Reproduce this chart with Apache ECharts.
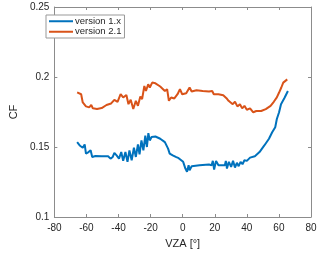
<!DOCTYPE html>
<html><head><meta charset="utf-8">
<script src="https://cdn.jsdelivr.net/npm/echarts@6/dist/echarts.min.js"></script>
<style>html,body{margin:0;padding:0;background:#fff}#c{width:320px;height:254px}</style>
</head><body><div id="c"></div>
<script>
const seriesNames = ["version 1.x", "version 2.1"];
const xTicks = [-80, -60, -40, -20, 0, 20, 40, 60, 80];
const yTicks = [0.1, 0.15, 0.2, 0.25];
const vza1 = [-65.8,-64.2,-62.3,-61.1,-60.3,-58.7,-57.4,-56.4,-54.4,-50.5,-46.5,-45,-43.6,-42.6,-41.2,-39.7,-38.3,-37.1,-35.7,-34.4,-33.2,-31.8,-30.4,-29.2,-27.9,-26.9,-25.7,-24.5,-23.3,-22.3,-21.4,-20.5,-19.4,-17,-14,-11.1,-9.9,-9.1,-8.1,-6.2,-4.3,-2.5,-1.3,0.3,1.7,2.7,3.7,4.3,5.6,10.5,16.4,18,18.8,19.6,20.8,22.3,26.3,26.9,27.6,28.8,30.2,31.4,32.6,33.8,34.9,36.1,37.3,38.5,40,42,45,47.9,50.9,53.8,55.8,57.7,58.7,60.1,61.3,62.1,63.6,65.6];
const cf1 = [0.1535,0.1511,0.1495,0.1518,0.1453,0.1464,0.1476,0.1429,0.1436,0.1434,0.1434,0.1417,0.1429,0.1458,0.144,0.1417,0.1464,0.1401,0.1464,0.1394,0.1476,0.1405,0.1495,0.1429,0.1518,0.1448,0.1547,0.1476,0.1582,0.15,0.1599,0.1547,0.1571,0.1575,0.1559,0.1535,0.1547,0.1488,0.1453,0.144,0.1429,0.142,0.141,0.1394,0.1346,0.1323,0.137,0.1334,0.1363,0.137,0.1375,0.137,0.1401,0.1339,0.1401,0.137,0.137,0.1401,0.1346,0.1394,0.1358,0.1401,0.1353,0.1387,0.1363,0.1394,0.1377,0.1405,0.1401,0.1424,0.1434,0.1464,0.1511,0.1559,0.1605,0.1641,0.17,0.1748,0.1806,0.1818,0.1854,0.19];
const vza2 = [-65.8,-63.3,-62.3,-60.3,-58.3,-57,-56,-53.4,-50.5,-47.5,-44.6,-42.6,-40.6,-38.7,-37.1,-35.1,-33.8,-32.4,-30.8,-29.2,-27.9,-26.4,-25.3,-23.9,-22.9,-21.5,-20.5,-19,-17,-14,-11.1,-9.7,-8.6,-7.2,-5.2,-3.2,-1.7,-0.3,2.2,4.3,5.6,8.6,12.5,16.4,18.4,19.4,20.4,22.3,25.3,27.3,28.6,29.8,31.2,32.6,34.1,35.7,37.1,38.5,40,42,44,45.9,48.9,51.8,54.8,56.8,58.7,60.1,61.5,62.7,65.2];
const cf2 = [0.189,0.1877,0.1818,0.179,0.1783,0.18,0.1776,0.1771,0.1778,0.18,0.1811,0.1837,0.1823,0.1877,0.1854,0.1872,0.1806,0.1837,0.1771,0.183,0.1794,0.1861,0.1842,0.1936,0.19,0.1948,0.1925,0.196,0.1955,0.1932,0.19,0.1913,0.183,0.1854,0.1847,0.1877,0.1913,0.1877,0.1884,0.1925,0.1896,0.1905,0.19,0.1896,0.19,0.1877,0.189,0.1877,0.187,0.1849,0.183,0.1842,0.1806,0.1823,0.179,0.1806,0.1776,0.1794,0.1766,0.1776,0.1748,0.1757,0.1757,0.1771,0.1794,0.1823,0.1854,0.1889,0.1925,0.196,0.1983];
const colors = ['#0072BD', '#D95319'];

const axisCol = '#8c8c8c';
const txtCol = '#262626';
const font = 'Liberation Sans, Arial, sans-serif';
const chart = echarts.init(document.getElementById('c'));
function xa(pos, show) {
  return { type:'value', position:pos, min:xTicks[0], max:xTicks[xTicks.length-1], interval:20,
    axisLine:{show:true, onZero:false, lineStyle:{color:axisCol, width:1}},
    axisTick:{show:true, inside:true, length:3, lineStyle:{color:axisCol}},
    axisLabel:{show:show, color:txtCol, fontSize:10, fontFamily:font, margin:6},
    splitLine:{show:false},
    name: show ? 'VZA [°]' : '', nameLocation:'middle', nameGap:21,
    nameTextStyle:{color:txtCol, fontSize:11, fontFamily:font} };
}
function ya(pos, show) {
  return { type:'value', position:pos, min:yTicks[0], max:yTicks[yTicks.length-1], interval:0.05,
    axisLine:{show:true, onZero:false, lineStyle:{color:axisCol, width:1}},
    axisTick:{show:true, inside:true, length:3, lineStyle:{color:axisCol}},
    axisLabel:{show:show, color:txtCol, fontSize:10, fontFamily:font, margin:5,
      formatter: v => String(parseFloat(v.toFixed(2)))},
    splitLine:{show:false},
    name: show ? 'CF' : '', nameLocation:'middle', nameGap:28,
    nameTextStyle:{color:txtCol, fontSize:11, fontFamily:font} };
}
chart.setOption({
  animation:false,
  grid:{left:40, right:9, top:7, bottom:35},
  xAxis:[xa('bottom', true), xa('top', false)],
  yAxis:[ya('left', true), ya('right', false)],
  legend:{
    left:46, top:15, orient:'vertical', itemGap:0, itemWidth:24, itemHeight:2,
    padding:[1,3,1,3], borderColor:'#999', borderWidth:1, backgroundColor:'#fff',
    textStyle:{color:txtCol, fontSize:9.5, lineHeight:10.5, fontFamily:font, padding:[0,0,0,-3]},
    data: seriesNames.map((n,i)=>({name:n, icon:'rect', itemStyle:{color:colors[i]}}))
  },
  series:[
    {name:seriesNames[0], type:'line', data:vza1.map((x,i)=>[x,cf1[i]]), showSymbol:false,
     lineStyle:{color:colors[0], width:2}, itemStyle:{color:colors[0]}},
    {name:seriesNames[1], type:'line', data:vza2.map((x,i)=>[x,cf2[i]]), showSymbol:false,
     lineStyle:{color:colors[1], width:2}, itemStyle:{color:colors[1]}}
  ]
});
</script></body></html>
